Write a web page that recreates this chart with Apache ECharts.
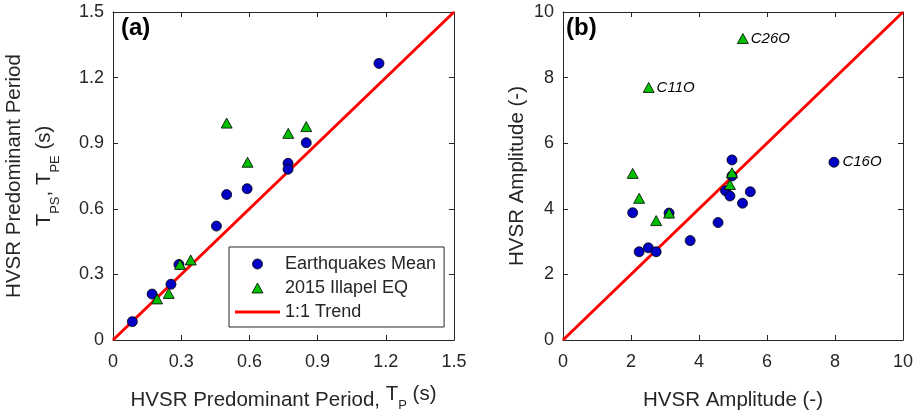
<!DOCTYPE html>
<html>
<head>
<meta charset="utf-8">
<script src="https://cdn.jsdelivr.net/npm/echarts@6/dist/echarts.min.js"></script>
<style>
  html, body { margin: 0; padding: 0; background: #fff; }
  #chart { width: 919px; height: 416px; }
</style>
</head>
<body>
<div id="chart"></div>
<script>
// panel (a): predominant period
var eqPeriodX = [0.085, 0.172, 0.255, 0.29, 0.455, 0.50, 0.59, 0.77, 0.77, 0.85, 1.17];
var eqPeriodY = [0.084, 0.210, 0.255, 0.345, 0.521, 0.665, 0.692, 0.808, 0.781, 0.902, 1.265];
var ilPeriodX = [0.194, 0.245, 0.295, 0.342, 0.50, 0.592, 0.771, 0.85];
var ilPeriodY = [0.188, 0.213, 0.346, 0.366, 0.992, 0.813, 0.945, 0.976];
var trendA = [[0, 0], [1.5, 1.5]];
var periodTicks = [0, 1.5, 0.3];

// panel (b): amplitude
var eqAmpX = [2.05, 2.24, 2.51, 2.74, 3.12, 3.74, 4.56, 4.78, 4.91, 4.97, 4.97, 5.28, 5.51, 7.97];
var eqAmpY = [3.88, 2.69, 2.81, 2.69, 3.87, 3.03, 3.58, 4.55, 4.39, 5.0, 5.49, 4.17, 4.52, 5.42];
var eqAmpLbl = ['', '', '', '', '', '', '', '', '', '', '', '', '', 'C16O'];
var ilAmpX = [2.05, 2.24, 2.52, 2.74, 3.12, 4.91, 4.97, 5.29];
var ilAmpY = [5.08, 4.32, 7.70, 3.64, 3.87, 4.74, 5.10, 9.19];
var ilAmpLbl = ['', '', 'C11O', '', '', '', '', 'C26O'];
var trendB = [[0, 0], [10, 10]];
var ampTicks = [0, 10, 2];

var names = ['Earthquakes Mean', '2015 Illapel EQ', '1:1 Trend'];

var FONT = "'Liberation Sans', Arial, sans-serif";
var AX = '#262626';
var BLUE = '#0000c4';
var GREEN = '#00c000';
var RED = '#ff0000';
var TRI = 'path://M5.5,0L11,10L0,10Z';
var BAR = 'path://M0,0L45,0L45,3L0,3Z';

function pairs(xs, ys) {
  return xs.map(function (x, i) { return [x, ys[i]]; });
}

var richName = {
  n: { fontSize: 20.5, fontFamily: FONT, color: AX, lineHeight: 32 },
  m: { fontSize: 20.5, fontFamily: FONT, color: AX, lineHeight: 40 },
  t: { fontSize: 20.5, fontFamily: FONT, color: AX, lineHeight: 22, verticalAlign: 'top' },
  s: { fontSize: 13, fontFamily: FONT, color: AX, lineHeight: 14, verticalAlign: 'top', padding: [15, 0, 0, 0] }
};

function axis(gi, pos, ticks, showLabel, name, gap) {
  return {
    type: 'value',
    gridIndex: gi,
    position: pos,
    min: ticks[0], max: ticks[1], interval: ticks[2],
    name: name || '',
    nameLocation: 'middle',
    nameGap: gap || 0,
    nameRotate: (pos === 'left') ? 90 : 0,
    nameTextStyle: { rich: richName, fontFamily: FONT, fontSize: 20.5, color: AX },
    axisLine: { show: true, onZero: false, lineStyle: { color: AX, width: 1 } },
    axisTick: { show: true, inside: true, length: 5, lineStyle: { color: AX } },
    axisLabel: { show: showLabel, fontSize: 18, fontFamily: FONT, color: AX, margin: pos === 'bottom' ? 13 : 9 },
    splitLine: { show: false }
  };
}

var chart = echarts.init(document.getElementById('chart'));

var option = {
  animation: false,
  backgroundColor: '#fff',
  title: [
    { text: '(a)', left: 121, top: 16, padding: 0, textStyle: { fontSize: 24, fontWeight: 'bold', fontFamily: FONT, color: '#000' } },
    { text: '(b)', left: 566, top: 16, padding: 0, textStyle: { fontSize: 24, fontWeight: 'bold', fontFamily: FONT, color: '#000' } }
  ],
  grid: [
    { left: 113, top: 12, width: 341, height: 328, outerBoundsMode: 'none' },
    { left: 563, top: 12, width: 340, height: 328, outerBoundsMode: 'none' }
  ],
  xAxis: [
    axis(0, 'bottom', periodTicks, true, '{n|HVSR Predominant Period, }{t|T}{s|P}{t| (s)}', 44),
    axis(0, 'top', periodTicks, false),
    axis(1, 'bottom', ampTicks, true, '{n|HVSR Amplitude (-)}', 44),
    axis(1, 'top', ampTicks, false)
  ],
  yAxis: [
    axis(0, 'left', periodTicks, true, '{m|HVSR Predominant Period}\n{t|T}{s|PS}{t|, T}{s|PE}{t| (s)}', 57),
    axis(0, 'right', periodTicks, false),
    axis(1, 'left', ampTicks, true, '{n|HVSR Amplitude (-)}', 30),
    axis(1, 'right', ampTicks, false)
  ],
  legend: {
    data: [
      { name: names[0], icon: 'circle', itemStyle: { color: BLUE, borderColor: '#000', borderWidth: 0.8 } },
      { name: names[1], icon: TRI, itemStyle: { color: GREEN, borderColor: '#000', borderWidth: 0.8 } },
      { name: names[2], icon: BAR, itemStyle: { color: RED, borderWidth: 0 } }
    ],
    orient: 'vertical',
    left: 229,
    top: 247,
    padding: [8, 8, 6, 6],
    itemGap: 6,
    itemWidth: 45,
    itemHeight: 10,
    symbolKeepAspect: true,
    borderColor: AX,
    borderWidth: 1,
    borderRadius: 0,
    backgroundColor: '#fff',
    textStyle: { fontSize: 18, fontFamily: FONT, color: AX }
  },
  series: [
    {
      name: names[2], type: 'line', xAxisIndex: 0, yAxisIndex: 0,
      data: trendA, symbol: 'none', showSymbol: false, z: 1,
      lineStyle: { color: RED, width: 3 }, itemStyle: { color: RED }
    },
    {
      name: names[0], type: 'scatter', xAxisIndex: 0, yAxisIndex: 0,
      data: pairs(eqPeriodX, eqPeriodY), symbol: 'circle', symbolSize: 10, z: 2,
      itemStyle: { color: BLUE, borderColor: '#000', borderWidth: 0.8, opacity: 1 }
    },
    {
      name: names[1], type: 'scatter', xAxisIndex: 0, yAxisIndex: 0,
      data: pairs(ilPeriodX, ilPeriodY), symbol: 'triangle', symbolSize: [11, 10], z: 3,
      itemStyle: { color: GREEN, borderColor: '#000', borderWidth: 0.8, opacity: 1 }
    },
    {
      name: names[2], type: 'line', xAxisIndex: 2, yAxisIndex: 2,
      data: trendB, symbol: 'none', showSymbol: false, z: 1,
      lineStyle: { color: RED, width: 3 }, itemStyle: { color: RED }
    },
    {
      name: names[0], type: 'scatter', xAxisIndex: 2, yAxisIndex: 2,
      data: pairs(eqAmpX, eqAmpY), symbol: 'circle', symbolSize: 10, z: 2,
      itemStyle: { color: BLUE, borderColor: '#000', borderWidth: 0.8, opacity: 1 },
      label: {
        show: true, position: 'right', distance: 3,
        fontSize: 15, fontStyle: 'italic', fontFamily: FONT, color: '#000',
        formatter: function (p) { return eqAmpLbl[p.dataIndex]; }
      }
    },
    {
      name: names[1], type: 'scatter', xAxisIndex: 2, yAxisIndex: 2,
      data: pairs(ilAmpX, ilAmpY), symbol: 'triangle', symbolSize: [11, 10], z: 3,
      itemStyle: { color: GREEN, borderColor: '#000', borderWidth: 0.8, opacity: 1 },
      label: {
        show: true, position: 'right', distance: 2,
        fontSize: 15, fontStyle: 'italic', fontFamily: FONT, color: '#000',
        formatter: function (p) { return ilAmpLbl[p.dataIndex]; }
      }
    }
  ]
};

chart.setOption(option);
</script>
</body>
</html>
